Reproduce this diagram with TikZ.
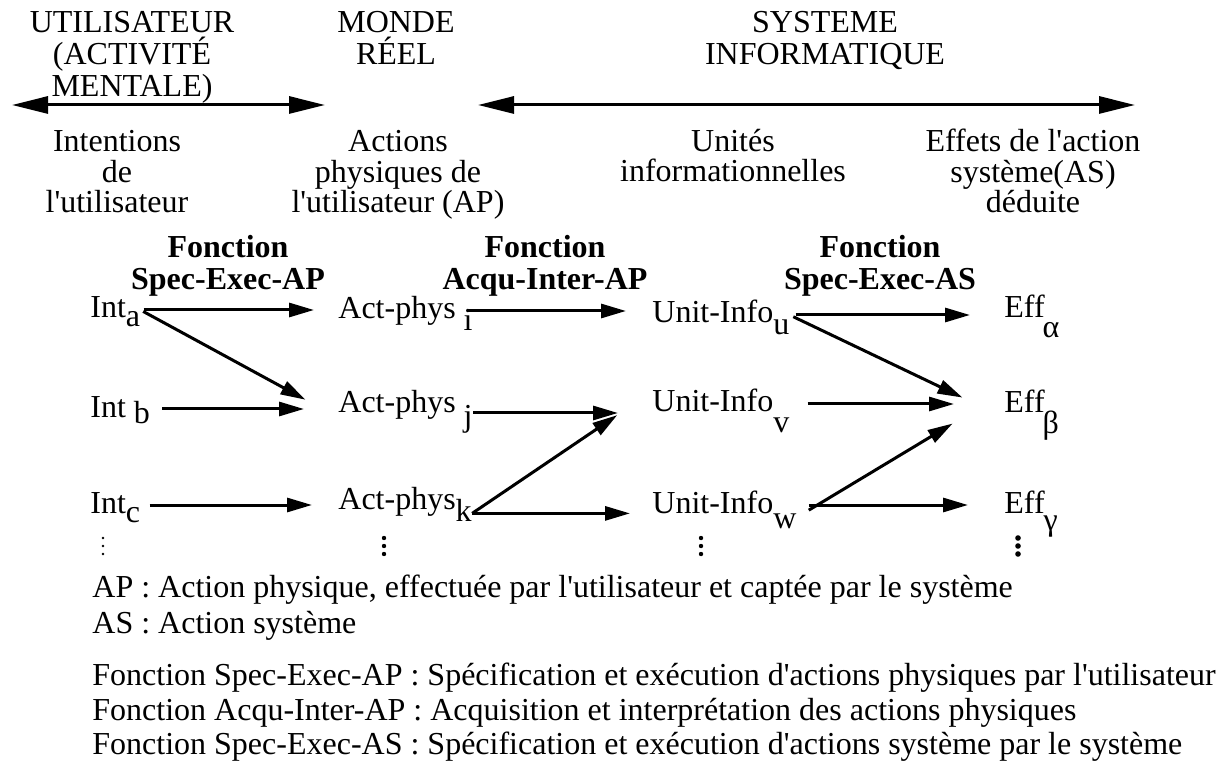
\documentclass[tikz,border=0pt]{standalone}
\usepackage{fontspec}
\setmainfont{Liberation Serif}[Ligatures=TeXOff]
\usetikzlibrary{positioning,calc,arrows.meta}

% chỉ số hạ thấp (không chiếm chiều cao)
\newcommand{\sous}[3][0pt]{\kern#1\raisebox{-#2}[0pt][0pt]{#3}}

\begin{document}
\begin{tikzpicture}[x=0.5pt, y=-0.5pt,
    % Style chung cho chữ
    every node/.style={font=\fontsize{16pt}{15.25pt}\selectfont, inner sep=0pt},
    % Style cho tiêu đề các vùng (neo ở dòng cuối)
    titletext/.style={align=center, anchor=base},
    headtext/.style={align=center, anchor=base,
        font=\fontsize{16pt}{16pt}\selectfont},
    % Style cho tên các hàm (chữ đậm)
    fonctiontext/.style={align=center, anchor=base,
        font=\fontsize{16pt}{16pt}\selectfont\bfseries},
    % Style cho các phần tử Int, Act-phys, Unit-Info, Eff
    elemnode/.style={anchor=base west, text height=10pt, text depth=2pt},
    % Style cho mũi tên nối
    flow/.style={-{Triangle[length=12.5pt,width=7pt]}, line width=1.5pt},
    % Style cho mũi tên hai đầu phía trên
    span/.style={{Triangle[length=18pt,width=8.5pt]}-{Triangle[length=18pt,width=8.5pt]},
        line width=1.5pt},
    % Style cho phần chú thích
    legend/.style={anchor=base west}
]
    \useasboundingbox (0,0) rectangle (1224,769);

    % --- 1. Tiêu đề các vùng ---
    \node[headtext] (user) at (132,97) {UTILISATEUR\\(ACTIVITÉ\\MENTALE)};
    \node[headtext] (monde) at (396,65) {MONDE\\RÉEL};
    \node[headtext] (systeme) at (825,65) {SYSTEME\\INFORMATIQUE};

    \coordinate (userL) at (12,105);
    \coordinate (userR) at (325,105);
    \coordinate (sysL) at (478,105);
    \coordinate (sysR) at (1135,105);
    \draw[span] (userL) -- (userR);
    \draw[span] (sysL) -- (sysR);

    % --- 2. Mô tả các cột ---
    \node[titletext] (intentions) at (117,213) {Intentions\\de\\l'utilisateur};
    \node[titletext] (actions) at (398,213) {Actions\\physiques de\\l'utilisateur (AP)};
    \node[titletext] (unites) at (733,182) {Unités\\informationnelles};
    \node[titletext] (effets) at (1033,213) {Effets de l'action\\système(AS)\\déduite};

    \node[fonctiontext] (fAP) at (228,290) {Fonction\\Spec-Exec-AP};
    \node[fonctiontext] (fAcqu) at (545,290) {Fonction\\Acqu-Inter-AP};
    \node[fonctiontext] (fAS) at (880,290) {Fonction\\Spec-Exec-AS};

    % --- 3. Các phần tử ---
    \node[elemnode] (Inta) at (90,318) {Int\sous{4.5pt}{a}};
    \node[elemnode] (Intb) at (90,417) {Int \sous{3pt}{b}};
    \node[elemnode] (Intc) at (90,513) {Int\sous{4.5pt}{c}};

    \node[elemnode] (Acti) at (338,319) {Act-phys \sous{6pt}{i}};
    \node[elemnode] (Actj) at (338,413) {Act-phys \sous{7pt}{j}};
    \node[elemnode] (Actk) at (338,509) {Act-phys\sous{6pt}{k}};

    \node[elemnode] (Unitu) at (652,323) {Unit-Info\sous{6pt}{u}};
    \node[elemnode] (Unitv) at (652,412) {Unit-Info\sous{10pt}{v}};
    \node[elemnode] (Unitw) at (652,513) {Unit-Info\sous{7.5pt}{w}};

    \node[elemnode] (Effa) at (1004,318) {Eff\sous[-1pt]{10pt}{α}};
    \node[elemnode] (Effb) at (1004,413) {Eff\sous[-1pt]{10pt}{β}};
    \node[elemnode] (Effc) at (1004,513) {Eff\sous[-0.5pt]{8.5pt}{γ}};

    % dấu chấm dọc
    \foreach \y in {538,546,554} {
        \fill (103,\y) circle (0.7pt);
        \fill (384,\y) circle (1.1pt);
        \fill (701,\y) circle (1.1pt);
        \fill (1018,\y) circle (1.4pt);
    }

    % --- 4. Các mũi tên ---
    \draw[flow, shorten <=1.5pt, shorten >=12pt] (Inta.east) -- (Inta.east -| Acti.west);
    \draw[flow, shorten <=1.5pt, shorten >=18.5pt] (Inta.east) -- (Actj.south west);
    \draw[flow, shorten <=6pt, shorten >=17pt] (Intb.east) -- (Intb.east -| Actj.west);
    \draw[flow, shorten <=4.5pt, shorten >=13pt] (Intc.east) -- (Intc.east -| Actk.west);

    \draw[flow, shorten <=-3pt, shorten >=13pt] (Acti.east) -- (Acti.east -| Unitu.west);
    \draw[flow, shorten >=17pt] (Actj.base east) -- (Actj.base east -| Unitv.west);
    \draw[flow, shorten >=21pt] (Actk.south east) -- (Unitv.north west);
    \draw[flow, shorten >=11pt] (Actk.south east) -- (Actk.south east -| Unitw.west);

    \draw[flow, shorten <=3pt, shorten >=17pt] (Unitu.east) -- (Unitu.east -| Effa.west);
    \draw[flow, shorten <=2pt, shorten >=23pt] (Unitu.east) -- (Effb.south west);
    \draw[flow, shorten <=9pt, shorten >=25pt] (Unitv.east) -- (Unitv.east -| Effb.west);
    \draw[flow, shorten <=7pt, shorten >=30pt] (Unitw.south east) -- (Effb.north west);
    \draw[flow, shorten <=6pt, shorten >=18pt] (Unitw.east) -- (Unitw.east -| Effc.west);

    % --- 5. Chú thích ---
    \node[legend] (lgAP) at (92,597) {AP : Action physique, effectuée par l'utilisateur et captée par le système};
    \node[legend] (lgAS) at (92,633) {AS : Action système};
    \node[legend] (lgF1) at (92,685) {Fonction Spec-Exec-AP : Spécification et exécution d'actions physiques par l'utilisateur};
    \node[legend] (lgF2) at (92,720) {Fonction Acqu-Inter-AP : Acquisition et interprétation des actions physiques};
    \node[legend] (lgF3) at (92,754) {Fonction Spec-Exec-AS : Spécification et exécution d'actions système par le système};
\end{tikzpicture}
\end{document}
